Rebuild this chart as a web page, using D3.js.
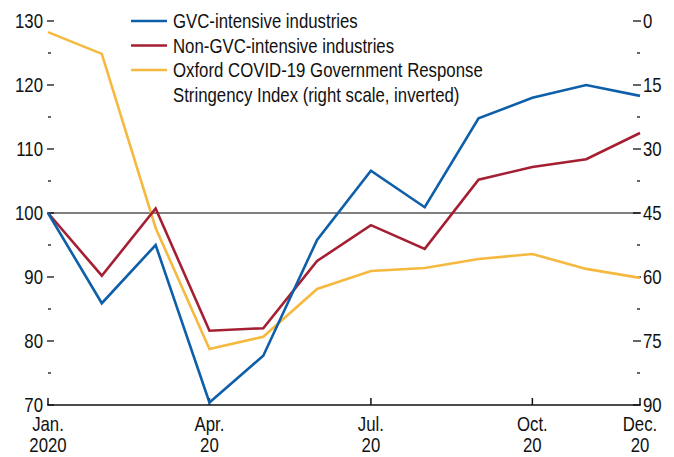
<!DOCTYPE html>
<html lang="en">
<head>
<meta charset="UTF-8">
<title>GVC chart</title>
<style>
  body { margin: 0; background: #fff; }
  svg text { font-family: "Liberation Sans", Arial, sans-serif; font-size: 20px; fill: #111; }
</style>
</head>
<body>
<div id="chart"></div>
<script src="https://d3js.org/d3.v7.min.js"></script>
<script>
var months = ["Jan","Feb","Mar","Apr","May","Jun","Jul","Aug","Sep","Oct","Nov","Dec"];
var xLabels = {0: ["Jan.", "2020"], 3: ["Apr.", "20"], 6: ["Jul.", "20"], 9: ["Oct.", "20"], 11: ["Dec.", "20"]};

var gvc    = [100, 85.9, 95.0, 70.4, 77.7, 95.8, 106.6, 100.9, 114.8, 118.0, 120.0, 118.3];
var nonGvc = [100, 90.2, 100.7, 81.6, 82.0, 92.5, 98.1, 94.4, 105.2, 107.2, 108.4, 112.5];
var stringency = [2.6, 7.7, 48.5, 76.9, 74.0, 62.8, 58.6, 57.9, 55.8, 54.6, 58.1, 60.2];

var leftTicks = [70, 80, 90, 100, 110, 120, 130];
var rightTicks = [0, 15, 30, 45, 60, 75, 90];

var series = [
  {name: "GVC-intensive industries", values: gvc, color: "#0e5fa9", axis: "left"},
  {name: "Non-GVC-intensive industries", values: nonGvc, color: "#a51f33", axis: "left"},
  {name: "Oxford COVID-19 Government Response|Stringency Index (right scale, inverted)", values: stringency, color: "#f6b940", axis: "right"}
];

var W = 674, H = 457;
var margin = {top: 21, right: 34, bottom: 52, left: 48};
var w = W - margin.left - margin.right,
    h = H - margin.top - margin.bottom;
var squeeze = 0.84; // condensed look

var svg = d3.select("#chart").append("svg")
    .attr("width", W)
    .attr("height", H)
  .append("g")
    .attr("transform", "translate(" + margin.left + "," + margin.top + ")");

function label(parent, tx, ty, str, anchor) {
  return parent.append("text")
      .attr("transform", "translate(" + tx + "," + ty + ") scale(" + squeeze + ",1)")
      .attr("text-anchor", anchor || "start")
      .text(str);
}

var x = d3.scalePoint().domain(d3.range(months.length)).range([0, w]);
var yL = d3.scaleLinear().domain([70, 130]).range([h, 0]);
var yR = d3.scaleLinear().domain([0, 90]).range([0, h]);

// left ticks
var lAxis = svg.append("g");
lAxis.selectAll(".maj").data(leftTicks).enter().append("line")
    .attr("x1", -1).attr("x2", 6)
    .attr("y1", function(d) { return yL(d); }).attr("y2", function(d) { return yL(d); })
    .attr("stroke", "#111").attr("stroke-width", 1.3);
lAxis.selectAll(".min").data(leftTicks.slice(0, -1)).enter().append("line")
    .attr("x1", 0).attr("x2", 3)
    .attr("y1", function(d) { return yL(d + 5); }).attr("y2", function(d) { return yL(d + 5); })
    .attr("stroke", "#111").attr("stroke-width", 1.3);
leftTicks.forEach(function(d) { label(lAxis, -5, yL(d) + 7, d, "end"); });

// right ticks
var rAxis = svg.append("g").attr("transform", "translate(" + w + ",0)");
rAxis.selectAll(".maj").data(rightTicks).enter().append("line")
    .attr("x1", -7).attr("x2", 1)
    .attr("y1", function(d) { return yR(d); }).attr("y2", function(d) { return yR(d); })
    .attr("stroke", "#111").attr("stroke-width", 1.3);
rAxis.selectAll(".min").data(rightTicks.slice(0, -1)).enter().append("line")
    .attr("x1", -3).attr("x2", 0)
    .attr("y1", function(d) { return yR(d + 7.5); }).attr("y2", function(d) { return yR(d + 7.5); })
    .attr("stroke", "#111").attr("stroke-width", 1.3);
rightTicks.forEach(function(d) { label(rAxis, 3, yR(d) + 7, d); });

// x axis
svg.append("line").attr("x1", 0).attr("x2", w).attr("y1", h).attr("y2", h)
    .attr("stroke", "#111").attr("stroke-width", 1.5);
Object.keys(xLabels).forEach(function(k) {
  var g = svg.append("g").attr("transform", "translate(" + x(+k) + "," + h + ")");
  g.append("line").attr("y1", 0).attr("y2", -7).attr("stroke", "#111").attr("stroke-width", 1.5);
  label(g, 0, 26, xLabels[k][0], "middle");
  label(g, 0, 47, xLabels[k][1], "middle");
});

// reference line at 100
svg.append("line").attr("x1", 0).attr("x2", w).attr("y1", yL(100)).attr("y2", yL(100))
    .attr("stroke", "#000").attr("stroke-width", 1);

// series
series.slice().reverse().forEach(function(s) {
  var yy = s.axis === "left" ? yL : yR;
  var line = d3.line().x(function(d, i) { return x(i); }).y(function(d) { return yy(d); });
  svg.append("path").datum(s.values)
      .attr("d", line)
      .attr("fill", "none")
      .attr("stroke", s.color)
      .attr("stroke-width", 2.6)
      .attr("stroke-linejoin", "miter");
});

// legend
var leg = svg.append("g").attr("transform", "translate(" + (131 - margin.left) + "," + (21 - margin.top) + ")");
series.forEach(function(s, i) {
  var g = leg.append("g").attr("transform", "translate(0," + (i * 24.5) + ")");
  g.append("line").attr("x1", 0).attr("x2", 36).attr("stroke", s.color).attr("stroke-width", 2.6);
  s.name.split("|").forEach(function(t, j) {
    label(g, 42, j * 24.5 + 7, t);
  });
});
</script>
</body>
</html>
